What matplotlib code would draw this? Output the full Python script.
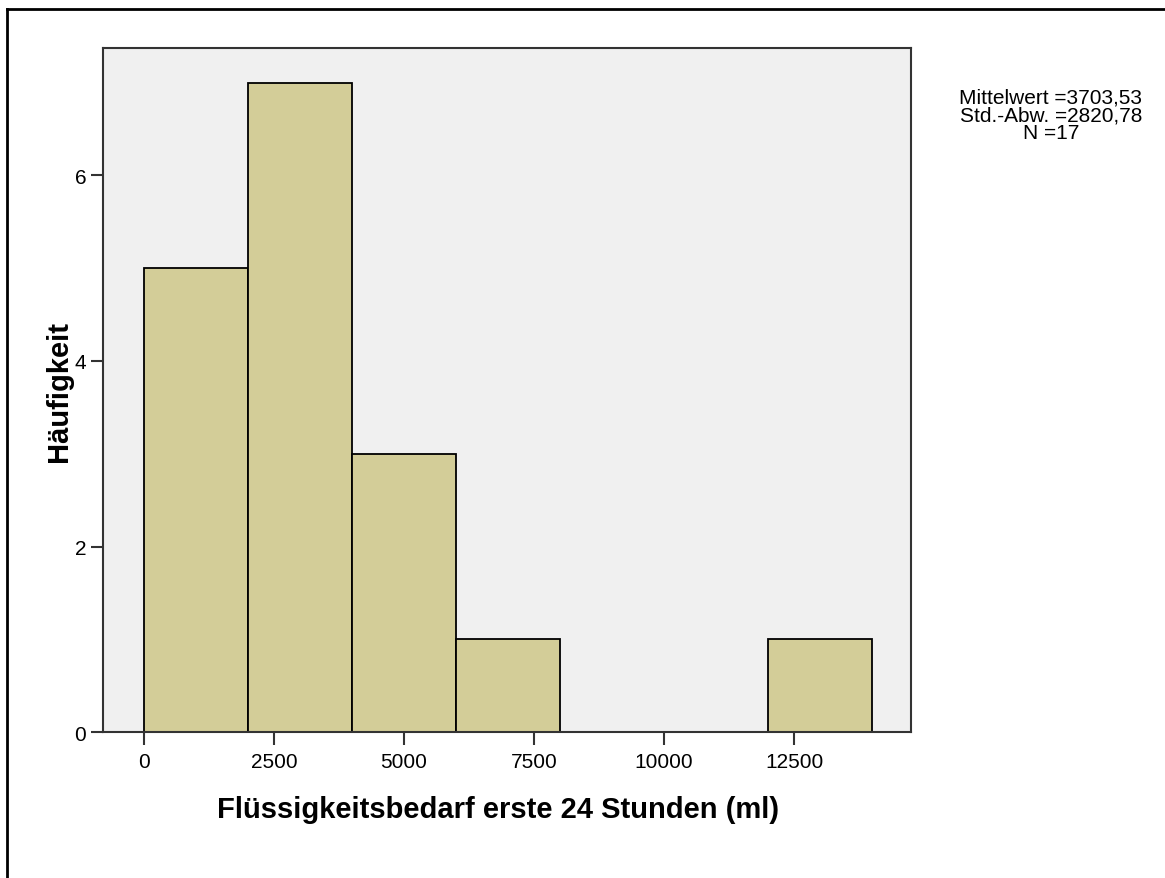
import matplotlib
matplotlib.use("Agg")
import matplotlib.pyplot as plt
from matplotlib.lines import Line2D

# Histogramm-Daten (Klassen je 2000 ml)
bin_edges = [0, 2000, 4000, 6000, 8000, 10000, 12000, 14000]
counts = [5, 7, 3, 1, 0, 0, 1]
x_ticks = [0, 2500, 5000, 7500, 10000, 12500]
y_ticks = [0, 2, 4, 6]
stats_lines = ["Mittelwert =3703,53", "Std.-Abw. =2820,78", "N =17"]

plt.rcParams['font.family'] = ['Liberation Sans', 'DejaVu Sans']

fig = plt.figure(figsize=(11.65, 8.79), dpi=100)
ax = fig.add_axes([0.0884, 0.166, 0.6936, 0.778])
ax.set_facecolor('#f0f0f0')

widths = [bin_edges[i + 1] - bin_edges[i] for i in range(len(counts))]
ax.bar(bin_edges[:-1], counts, width=widths, align='edge',
       color='#d3cd98', edgecolor='black', linewidth=1.3, zorder=2)

ax.set_xlim(-790, 14750)
ax.set_ylim(0, 7.37)
ax.set_xticks(x_ticks)
ax.set_yticks(y_ticks)
ax.tick_params(direction='out', length=9, width=1.5, color='#333333',
               labelsize=15, pad=5)
ax.tick_params(axis='y', pad=3)
for s in ax.spines.values():
    s.set_linewidth(1.5)
    s.set_color('#333333')

ax.set_xlabel('Flüssigkeitsbedarf erste 24 Stunden (ml)', fontsize=21,
              fontweight='bold')
ax.xaxis.set_label_coords(0.489, -0.092)
ax.set_ylabel('Häufigkeit', fontsize=21, fontweight='bold')
ax.yaxis.set_label_coords(-0.037, 0.5)

fig.text(0.902, 0.899, "\n".join(stats_lines), ha='center', va='top',
         fontsize=15, linespacing=0.9)

# Rahmen links und oben
fig.add_artist(Line2D([7 / 1165, 7 / 1165], [0, 1 - 10 / 879],
                      transform=fig.transFigure, color='black', lw=2))
fig.add_artist(Line2D([7 / 1165, 1], [1 - 10 / 879, 1 - 10 / 879],
                      transform=fig.transFigure, color='black', lw=2))

fig.savefig('out.png', dpi=100)
